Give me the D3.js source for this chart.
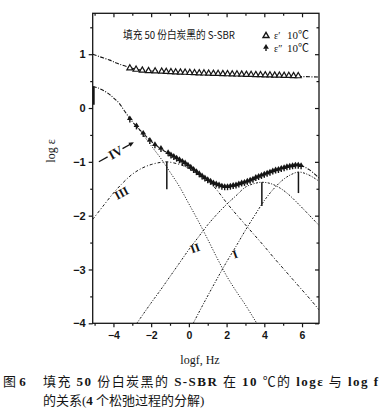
<!DOCTYPE html>
<html><head><meta charset="utf-8">
<script src="https://cdn.jsdelivr.net/npm/d3@7"></script>
<style>
html,body{margin:0;padding:0;background:#fff;}
svg{display:block;}
</style></head>
<body>
<svg id="c" width="383" height="417"></svg>
<script>
// ---------- data ----------
const xTicks = [-4, -2, 0, 2, 4, 6];
const xMinor = [-5, -3, -1, 1, 3, 5];
const yTicks = [-4, -3, -2, -1, 0, 1];
const yMinor = [-3.5, -2.5, -1.5, -0.5, 0.5, 1.5];

// epsilon' measured (open triangles)
const epsPX = [-3.13,-2.8,-2.47,-2.14,-1.79,-1.44,-1.2,-0.95,-0.7,-0.45,-0.2,0.05,0.3,0.55,0.8,1.05,1.3,1.55,1.8,2.05,2.3,2.55,2.8,3.05,3.3,3.55,3.8,4.05,4.3,4.55,4.8,5.05,5.3,5.55,5.8];
const epsPY = [0.745,0.72,0.705,0.695,0.69,0.685,0.68,0.675,0.67,0.668,0.665,0.66,0.657,0.654,0.651,0.648,0.645,0.642,0.64,0.637,0.634,0.632,0.63,0.627,0.624,0.622,0.62,0.617,0.615,0.612,0.61,0.607,0.605,0.602,0.6];
// epsilon' fit
const fitPX = [-5.1,-4.7,-4.2,-3.8,-3.3,-2.8,-2.3,-1.5,-0.5,0.5,1.5,2.5,3.5,4.5,5.5,6.9];
const fitPY = [1.0,0.95,0.89,0.83,0.77,0.72,0.70,0.68,0.66,0.645,0.63,0.62,0.61,0.60,0.59,0.575];

// epsilon'' measured (filled markers)
const epsDX = [-3.13,-2.78,-2.42,-2.07,-1.8,-1.48,-1.1,-0.95,-0.8,-0.65,-0.5,-0.35,-0.2,-0.05,0.1,0.25,0.4,0.55,0.7,0.85,1.0,1.15,1.3,1.45,1.6,1.75,1.9,2.05,2.2,2.35,2.5,2.65,2.8,2.95,3.1,3.25,3.4,3.55,3.7,3.85,4.0,4.15,4.3,4.45,4.6,4.75,4.9,5.05,5.2,5.35,5.5,5.65,5.8,5.95];
const epsDY = [-0.20,-0.33,-0.47,-0.60,-0.68,-0.75,-0.83,-0.87,-0.90,-0.93,-0.96,-0.99,-1.02,-1.06,-1.10,-1.14,-1.18,-1.22,-1.26,-1.30,-1.33,-1.36,-1.39,-1.41,-1.43,-1.45,-1.46,-1.46,-1.45,-1.44,-1.43,-1.41,-1.39,-1.38,-1.36,-1.34,-1.32,-1.29,-1.27,-1.25,-1.23,-1.21,-1.19,-1.17,-1.15,-1.14,-1.12,-1.11,-1.09,-1.08,-1.07,-1.06,-1.06,-1.07];
// epsilon'' total fit
const sumX = [-5.1,-4.8,-4.5,-4.2,-4.0,-3.7,-3.4,-3.1,-2.8,-2.4,-2.0,-1.6,-1.2,-0.8,-0.4,0,0.5,1,1.5,2,2.5,3,3.5,4,4.5,5,5.5,6,6.4,6.9];
const sumY = [0.40,0.37,0.32,0.25,0.19,0.09,-0.06,-0.21,-0.33,-0.48,-0.62,-0.73,-0.82,-0.90,-0.98,-1.08,-1.22,-1.34,-1.43,-1.47,-1.44,-1.39,-1.31,-1.24,-1.17,-1.12,-1.08,-1.08,-1.15,-1.30];
const leftEdgeY = [0.06, 0.40];

// relaxation processes
const pIVX = [-2.8,-2.5,-2.0,-1.5,-1.0,-0.5,0,0.5,1.0,1.5,2.0,2.5,3.0,3.6];
const pIVY = [-0.33,-0.46,-0.70,-0.93,-1.19,-1.46,-1.78,-2.10,-2.44,-2.79,-3.12,-3.40,-3.66,-4.0];
const pIIIX = [-5.1,-4.5,-4.0,-3.5,-3.0,-2.5,-2.0,-1.5,-1.17,-0.8,-0.4,0,0.5,1.0,1.5,2.0,2.5,3.0,3.5,4.0,4.5,5.0,5.5,6.0,6.5,6.9];
const pIIIY = [-2.07,-1.80,-1.58,-1.39,-1.23,-1.12,-1.05,-1.01,-1.00,-1.02,-1.06,-1.12,-1.22,-1.34,-1.53,-1.76,-1.97,-2.17,-2.37,-2.57,-2.78,-2.98,-3.18,-3.38,-3.58,-3.75];
const pIIX = [-2.76,-2.0,-1.5,-1.0,-0.5,0,0.5,1.0,1.5,2.0,2.5,3.0,3.5,3.87,4.3,4.8,5.3,5.8,6.3,6.9];
const pIIY = [-4.0,-3.62,-3.38,-3.13,-2.88,-2.63,-2.40,-2.17,-1.97,-1.79,-1.63,-1.47,-1.40,-1.38,-1.40,-1.48,-1.61,-1.78,-1.96,-2.18];
const pIX = [0.23,0.8,1.5,2.0,2.5,3.0,3.5,4.0,4.5,5.0,5.4,5.81,6.2,6.6,6.9];
const pIY = [-4.0,-3.62,-3.17,-2.86,-2.57,-2.27,-1.99,-1.72,-1.50,-1.33,-1.24,-1.19,-1.22,-1.29,-1.36];
// peak markers
const peakX = [-1.17, 3.87, 5.81];
const peakTop = [-1.00, -1.38, -1.19];
const peakBot = [-1.51, -1.82, -1.58];

// ---------- drawing ----------
const svg = d3.select("#c");
const L = 92.7, R = 319, T = 13.3, B = 323.3;
const x = d3.scaleLinear().domain([-5.1, 6.9]).range([L, R]);
const y = d3.scaleLinear().domain([-4, 1.76]).range([B, T]);
const ink = "#151515";
const zip = (a, b) => a.map((v, i) => [v, b[i]]);
const line = d3.line().x(d => x(d[0])).y(d => y(d[1])).curve(d3.curveCatmullRom.alpha(0.5));

// clip
svg.append("clipPath").attr("id","clip").append("rect").attr("x",L).attr("y",T).attr("width",R-L).attr("height",B-T);
const plot = svg.append("g").attr("clip-path","url(#clip)");

function curve(xs, ys, dash, w) {
  plot.append("path").datum(zip(xs, ys)).attr("d", line)
    .attr("fill","none").attr("stroke",ink).attr("stroke-width",w||1)
    .attr("stroke-dasharray",dash);
}
curve(fitPX, fitPY, "4,1.5,1,1.5", 1.1);
curve(sumX, sumY, "4,1.5,1,1.5", 1.1);
curve(pIVX, pIVY, "1.1,1.6", 1);
curve(pIIIX, pIIIY, "3,2,1,2", 1);
curve(pIIX, pIIY, "2,1.5,1,1.5", 1);
curve(pIX, pIY, "2,1.5,1,1.5", 1);

// left-edge segment
plot.append("line").attr("x1",x(-5.1)+1).attr("x2",x(-5.1)+1)
  .attr("y1",y(leftEdgeY[0])).attr("y2",y(leftEdgeY[1]))
  .attr("stroke",ink).attr("stroke-width",2);

// peak markers
peakX.forEach((px, i) => {
  svg.append("line").attr("x1",x(px)).attr("x2",x(px))
    .attr("y1",y(peakTop[i])).attr("y2",y(peakBot[i]))
    .attr("stroke",ink).attr("stroke-width",1.5);
});

// markers
const triOpen = "M0,-3.2L3,2L-3,2Z";
const triFill = "M0,-3.4L2.9,1.3L-2.9,1.3Z";
zip(epsPX, epsPY).forEach(d => {
  svg.append("path").attr("d", triOpen).attr("transform",`translate(${x(d[0])},${y(d[1])})`)
    .attr("fill","#fff").attr("stroke",ink).attr("stroke-width",1.2);
});
zip(epsDX, epsDY).forEach(d => {
  const g = svg.append("g").attr("transform",`translate(${x(d[0])},${y(d[1])})`);
  g.append("path").attr("d", triFill).attr("fill",ink);
  g.append("line").attr("x1",0).attr("x2",0).attr("y1",1).attr("y2",3.6).attr("stroke",ink).attr("stroke-width",1.4);
});

// frame
svg.append("rect").attr("x",L).attr("y",T).attr("width",R-L).attr("height",B-T)
  .attr("fill","none").attr("stroke",ink).attr("stroke-width",1.3);

// axes
const fontNum = "'Liberation Sans', Arial, sans-serif";
function styleAxis(g) {
  g.select(".domain").remove();
  g.selectAll("line").attr("stroke",ink).attr("stroke-width",1.2);
  g.selectAll("text").attr("font-family",fontNum).attr("font-weight","bold").attr("font-size",11).attr("fill",ink);
}
const xb = svg.append("g").attr("transform",`translate(0,${B})`)
  .call(d3.axisBottom(x).tickValues(xTicks).tickSize(4).tickPadding(4).tickFormat(d3.format("d")));
styleAxis(xb);
xb.selectAll("text").attr("font-size",10.5);
styleAxis(svg.append("g").attr("transform",`translate(0,${B})`).call(d3.axisBottom(x).tickValues(xMinor).tickSize(2.5).tickFormat("")));
styleAxis(svg.append("g").attr("transform",`translate(0,${T})`).call(d3.axisBottom(x).tickValues(xTicks).tickSize(4).tickFormat("")));
styleAxis(svg.append("g").attr("transform",`translate(0,${T})`).call(d3.axisBottom(x).tickValues(xMinor).tickSize(2.5).tickFormat("")));
const yl = svg.append("g").attr("transform",`translate(${L},0)`)
  .call(d3.axisLeft(y).tickValues(yTicks).tickSize(4).tickPadding(3).tickFormat(d3.format("d")));
styleAxis(yl);
styleAxis(svg.append("g").attr("transform",`translate(${L},0)`).call(d3.axisLeft(y).tickValues(yMinor).tickSize(2.5).tickFormat("")));
styleAxis(svg.append("g").attr("transform",`translate(${R},0)`).call(d3.axisLeft(y).tickValues(yTicks).tickSize(4).tickFormat("")));
styleAxis(svg.append("g").attr("transform",`translate(${R},0)`).call(d3.axisLeft(y).tickValues(yMinor).tickSize(2.5).tickFormat("")));

// axis titles
const serif = "'Liberation Serif', 'Noto Sans CJK SC', serif";
svg.append("text").attr("transform","translate(55,151) rotate(-90)").attr("text-anchor","middle")
  .attr("font-family",serif).attr("font-size",12).attr("fill",ink).text("log ε");
svg.append("text").attr("x",200).attr("y",364).attr("text-anchor","middle")
  .attr("font-family",serif).attr("font-size",12).attr("fill",ink).text("logf, Hz");

// in-plot title
svg.append("text").attr("x",123).attr("y",39).attr("font-family","'Noto Sans CJK SC', sans-serif")
  .attr("font-size",11).attr("textLength",112).attr("lengthAdjust","spacingAndGlyphs").attr("fill",ink)
  .text("填充 50 份白炭黑的 S-SBR");

// legend
svg.append("path").attr("d",triOpen).attr("transform","translate(266,35.5)").attr("fill","#fff").attr("stroke",ink).attr("stroke-width",1.4);
const lg2 = svg.append("g").attr("transform","translate(266,47.5)");
lg2.append("path").attr("d",triFill).attr("fill",ink);
lg2.append("line").attr("x1",0).attr("x2",0).attr("y1",1).attr("y2",3.6).attr("stroke",ink).attr("stroke-width",1.4);
[["ε′",39],["ε″",52]].forEach(([t, yy]) => {
  svg.append("text").attr("x",274).attr("y",yy).attr("font-family",serif).attr("font-size",10).attr("fill",ink).text(t);
  svg.append("text").attr("x",287).attr("y",yy).attr("font-family",serif).attr("font-size",11).attr("fill",ink).text("10℃");
});

// process labels
function lab(t, cx, cy, rot, size) {
  svg.append("text").attr("transform",`translate(${cx},${cy}) rotate(${rot})`).attr("text-anchor","middle")
    .attr("dy","0.35em").attr("font-family","'Liberation Serif', serif").attr("font-weight","bold")
    .attr("font-size",size).attr("fill",ink).text(t);
}
lab("III", 121.5, 193, -28, 12);
lab("II", 195, 248, -20, 12);
lab("I", 235, 254, -20, 12);
// IV label with arrow
const iv = svg.append("g").attr("transform","translate(115.5,152.5) rotate(-29)");
iv.append("line").attr("x1",-19).attr("x2",-9).attr("y1",0).attr("y2",0).attr("stroke",ink).attr("stroke-width",1.3);
iv.append("line").attr("x1",8).attr("x2",19).attr("y1",0).attr("y2",0).attr("stroke",ink).attr("stroke-width",1.3);
iv.append("path").attr("d","M21,0L16,-2.2L16,2.2Z").attr("fill",ink);
iv.append("text").attr("text-anchor","middle").attr("dy","0.35em").attr("font-family","'Liberation Serif', serif")
  .attr("font-weight","bold").attr("font-size",13).attr("fill",ink).text("IV");

// caption
const cap = svg.append("g").attr("font-size",13).attr("fill",ink).attr("font-family","'Liberation Serif', 'Noto Sans CJK SC', serif");
const c0 = cap.append("text").attr("x",3).attr("y",386);
c0.append("tspan").text("图 ");
c0.append("tspan").attr("font-weight","bold").text("6");
const c1 = cap.append("text").attr("x",43).attr("y",386).attr("textLength",335).attr("lengthAdjust","spacing");
[["填充 ",0],["50",1],[" 份白炭黑的 ",0],["S-SBR",1],[" 在 ",0],["10",1],[" ℃的 ",0],["logε",1],[" 与 ",0],["log f",1]]
  .forEach(([t,b]) => c1.append("tspan").attr("font-weight", b ? "bold" : "normal").text(t));
const c2 = cap.append("text").attr("x",43).attr("y",405);
[["的关系(",0],["4",1],[" 个松弛过程的分解)",0]].forEach(([t,b]) => c2.append("tspan").attr("font-weight", b ? "bold" : "normal").text(t));
</script>
</body></html>
